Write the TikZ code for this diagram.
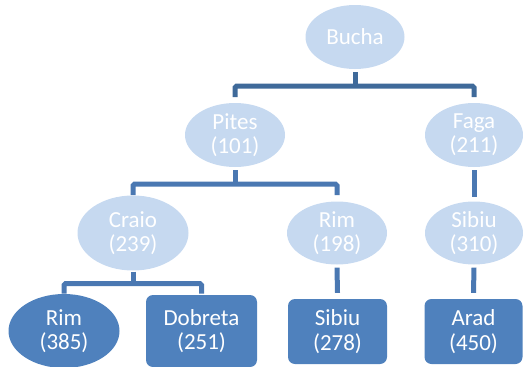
\documentclass[tikz,border=0pt]{standalone}
\usepackage{fontspec}
\setmainfont{Carlito}
\usetikzlibrary{shapes.geometric,calc}
\definecolor{lightnode}{HTML}{C6D9F0}
\definecolor{darknode}{HTML}{4F81BD}
\definecolor{topline}{HTML}{3F6A9A}
\definecolor{subline}{HTML}{4A78B2}
\begin{document}
\begin{tikzpicture}[x=1pt,y=-1pt,
  every node/.style={font=\fontsize{23}{24.4}\selectfont, text=white, align=center, inner sep=-8pt},
  softoval/.style={ellipse, fill=lightnode, minimum width=99pt, minimum height=64pt},
  darkoval/.style={ellipse, fill=darknode, minimum width=111pt, minimum height=74pt},
  darkbox/.style={rectangle, rounded corners=7pt, fill=darknode, minimum width=99pt, minimum height=65pt, inner sep=0pt},
  conn/.style={line width=5pt, subline, rounded corners=1.5pt},
  topconn/.style={conn, topline}]
\useasboundingbox (0,0) rectangle (523,367);

% nodes
\node[softoval] (bucha) at (355,37) {Bucha};
\node[softoval, minimum width=100pt] (pites) at (235,135) {Pites\\(101)};
\node[softoval, minimum width=98pt] (faga) at (474,135) {Faga\\(211)};
\node[softoval, minimum width=111pt, minimum height=75pt] (craio) at (133,233) {Craio\\(239)};
\node[softoval, minimum width=100pt, minimum height=63pt] (rimA) at (337,233) {Rim\\(198)};
\node[softoval, minimum width=98pt, minimum height=63pt] (sibiuA) at (474,233) {Sibiu\\(310)};
\node[darkoval] (rimB) at (64,331) {Rim\\(385)};
\node[darkbox, minimum width=111pt, minimum height=72pt] (dobreta) at (201.5,331) {Dobreta\\(251)};
\node[darkbox] (sibiuB) at (337.5,331.5) {Sibiu\\(278)};
\node[darkbox, minimum width=98pt] (arad) at (473.5,331.5) {Arad\\(450)};

% bracket under Bucha
\coordinate (b1) at ([yshift=-17pt]bucha.south);
\draw[topconn] ([yshift=-3pt]bucha.south) -- (b1);
\draw[topconn] ($(b1 -| pites)+(0,11)$) |- (b1) -| ($(b1 -| faga)+(0,11)$);

% bracket under Pites
\coordinate (b2) at ([yshift=-17pt]pites.south);
\draw[conn] ([yshift=-3pt]pites.south) -- (b2);
\draw[conn] ($(b2 -| craio)+(0,11)$) |- (b2) -| ($(b2 -| rimA)+(0,11)$);

% bracket under Craio
\coordinate (b3) at ([yshift=-13pt]craio.south);
\draw[conn] ([yshift=-1pt]craio.south) -- (b3);
\draw[conn] ($(b3 -| rimB)+(0,10)$) |- (b3) -| ($(b3 -| dobreta)+(0,10)$);

% single links
\draw[conn] ([yshift=-3pt]faga.south) -- ($(faga.south |- sibiuA.north)+(0,-4)$);
\draw[conn] ([yshift=-3pt]rimA.south) -- ([yshift=6pt]sibiuB.north);
\draw[conn] ([yshift=-3pt]sibiuA.south) -- ([yshift=6pt]arad.north);
\end{tikzpicture}
\end{document}
